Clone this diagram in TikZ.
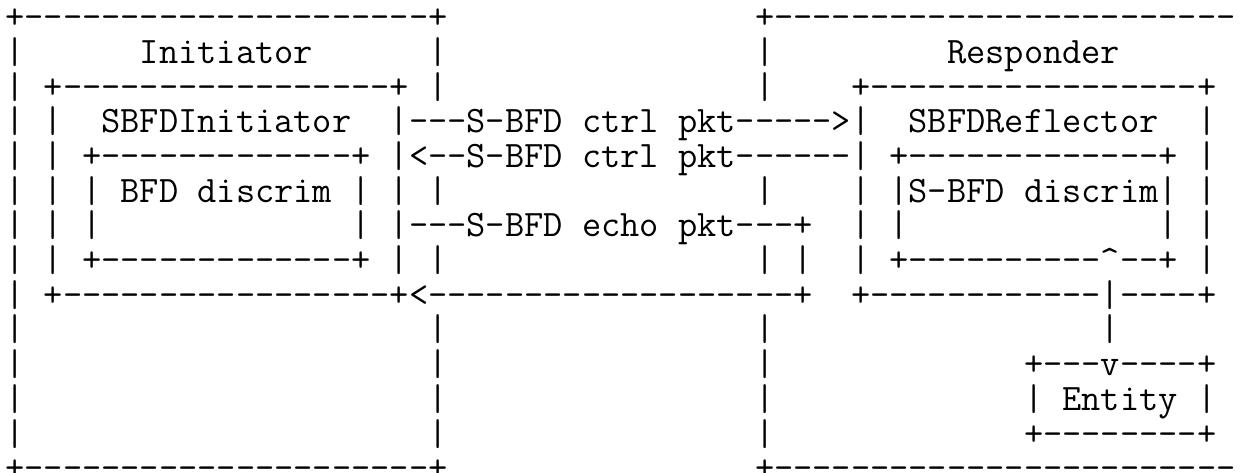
\documentclass[tikz,border=0pt]{standalone}
\ExplSyntaxOn
\NewDocumentCommand\rdash{m}{\prg_replicate:nn{#1}{-\kern0pt}}
\NewDocumentCommand\rspace{m}{\prg_replicate:nn{#1}{\ }}
\ExplSyntaxOff
\begin{document}
\begin{tikzpicture}[x=0.5pt,y=-0.5pt,
  ln/.style={anchor=base west, inner sep=0pt, outer sep=0pt,
    font=\ttfamily\fontsize{18.661pt}{18.661pt}\selectfont, text=black}]
\fill[white] (0,0) rectangle (1244,472);
\useasboundingbox (0,0) rectangle (1244,472);
\clip (0,0) rectangle (1244,472);
\def\lx{5.4}
\node[ln] (L1)  at (\lx, 28.6) {+\rdash{21}+\rspace{16}+\rdash{24}};
\node[ln] (L2)  at (\lx, 63.3) {|\rspace{6}Initiator\rspace{6}|\rspace{16}|\rspace{9}Responder};
\node[ln] (L3)  at (\lx, 98.0) {|\rspace{1}+\rdash{17}+\rspace{1}|\rspace{16}|\rspace{4}+\rdash{17}+};
\node[ln] (L4)  at (\lx,132.7) {|\rspace{1}|\rspace{2}SBFDInitiator\rspace{2}|\rdash{3}S-BFD\rspace{1}ctrl\rspace{1}pkt\rdash{5}>|\rspace{2}SBFDReflector\rspace{2}|};
\node[ln] (L5)  at (\lx,167.4) {|\rspace{1}|\rspace{1}+\rdash{13}+\rspace{1}|<\rdash{2}S-BFD\rspace{1}ctrl\rspace{1}pkt\rdash{6}|\rspace{1}+\rdash{13}+\rspace{1}|};
\node[ln] (L6)  at (\lx,202.1) {|\rspace{1}|\rspace{1}|\rspace{1}BFD\rspace{1}discrim\rspace{1}|\rspace{1}|\rspace{1}|\rspace{16}|\rspace{4}|\rspace{1}|S-BFD\rspace{1}discrim|\rspace{1}|};
\node[ln] (L7)  at (\lx,236.8) {|\rspace{1}|\rspace{1}|\rspace{13}|\rspace{1}|\rdash{3}S-BFD\rspace{1}echo\rspace{1}pkt\rdash{3}+\rspace{2}|\rspace{1}|\rspace{13}|\rspace{1}|};
\node[ln] (L8)  at (\lx,271.5) {|\rspace{1}|\rspace{1}+\rdash{13}+\rspace{1}|\rspace{1}|\rspace{16}|\rspace{1}|\rspace{2}|\rspace{1}+\rdash{10}\textasciicircum\rdash{2}+\rspace{1}|};
\node[ln] (L9)  at (\lx,306.2) {|\rspace{1}+\rdash{17}+<\rdash{19}+\rspace{2}+\rdash{12}|\rdash{4}+};
\node[ln] (L10) at (\lx,340.9) {|\rspace{21}|\rspace{16}|\rspace{17}|};
\node[ln] (L11) at (\lx,375.6) {|\rspace{21}|\rspace{16}|\rspace{13}+\rdash{3}v\rdash{4}+};
\node[ln] (L12) at (\lx,410.3) {|\rspace{21}|\rspace{16}|\rspace{13}|\rspace{1}Entity\rspace{1}|};
\node[ln] (L13) at (\lx,445.0) {|\rspace{21}|\rspace{16}|\rspace{13}+\rdash{8}+};
\node[ln] (L14) at (\lx,479.7) {+\rdash{21}+\rspace{16}+\rdash{24}};
\end{tikzpicture}
\end{document}
